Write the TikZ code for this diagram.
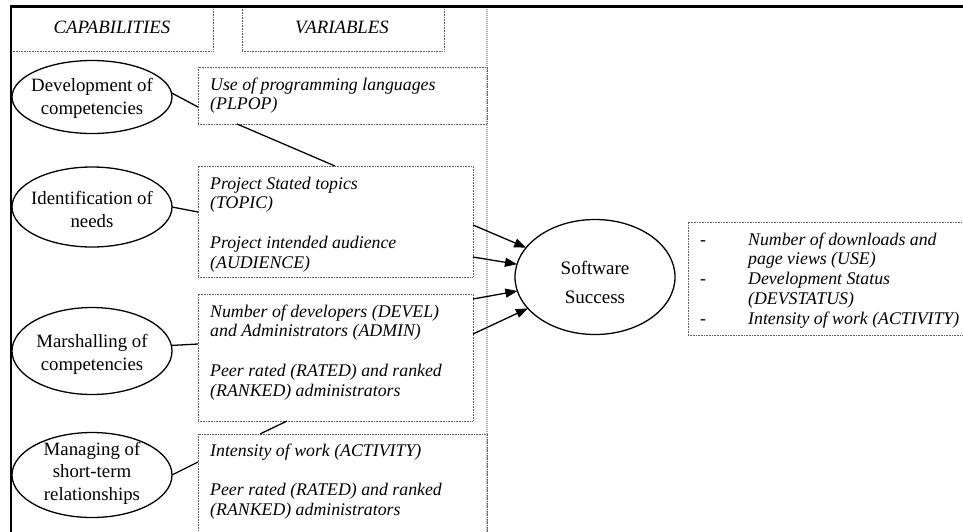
\documentclass[tikz,border=0pt]{standalone}
\usepackage{fontspec}
\setmainfont{Liberation Serif}
\usetikzlibrary{shapes.geometric,arrows.meta,calc}
\definecolor{dotgray}{RGB}{95,95,95}
\definecolor{linegray}{RGB}{165,165,165}
\newcommand{\rowsL}[1]{\begin{tabular}[t]{@{}l@{}}#1\end{tabular}}
\newcommand{\rowsC}[1]{\begin{tabular}[t]{@{}c@{}}#1\end{tabular}}
\begin{document}
\begin{tikzpicture}[x=1pt,y=-1pt,
  vbox/.style={draw=dotgray, line width=0.8pt, dash pattern=on 0.8pt off 0.8pt, inner sep=0pt, outer sep=0pt, anchor=north west},
  oval/.style={draw, ellipse, line width=1.3pt, inner sep=0pt, outer sep=0pt, minimum width=160pt},
  captext/.style={font=\fontsize{18.8}{23}\selectfont, inner sep=0pt, anchor=base},
  headtext/.style={font=\fontsize{18.8}{23}\selectfont\itshape, inner sep=0pt, anchor=base},
  vartext/.style={font=\fontsize{17.8}{19.8}\selectfont\itshape, inner sep=0pt, anchor=base west},
  link/.style={line width=1.3pt},
  arr/.style={line width=1.3pt, -{Triangle[length=12pt,width=9pt]}},
]
\useasboundingbox (0,0) rectangle (963,531);

% header boxes
\node[vbox, minimum width=202pt, minimum height=44pt] (capbox) at (11,7) {};
\node[vbox, minimum width=202pt, minimum height=44pt] (varbox) at (242,7) {};
\node[headtext] (caph) at (112,33) {CAPABILITIES};
\node[headtext] (varh) at (342,33) {VARIABLES};

% vertical separator
\draw[linegray, line width=1.6pt, dash pattern=on 1pt off 1pt] (487,7) -- (487,540);

% variable boxes
\node[vbox, minimum width=289pt, minimum height=57pt] (b1) at (198,67) {};
\node[vbox, minimum width=275pt, minimum height=111pt] (b2) at (198,166) {};
\node[vbox, minimum width=275pt, minimum height=127pt] (b3) at (198,294) {};
\node[vbox, minimum width=289pt, minimum height=110pt] (b4) at (198,434) {};
\node[vbox, minimum width=290pt, minimum height=113pt] (rb) at (688,222) {};

\node[vartext] (b1t) at (210,90) {\rowsL{Use of programming languages\\(PLPOP)}};
\node[vartext] (b2t) at (210,189) {\rowsL{Project Stated topics\\(TOPIC)\\ \\Project intended audience\\(AUDIENCE)}};
\node[vartext] (b3t) at (210,317) {\rowsL{Number of developers (DEVEL)\\and Administrators (ADMIN)\\ \\Peer rated (RATED) and ranked\\(RANKED) administrators}};
\node[vartext] (b4t) at (210,456) {\rowsL{Intensity of work (ACTIVITY)\\ \\Peer rated (RATED) and ranked\\(RANKED) administrators}};
\node[vartext] (rbt) at (700,245) {\begin{tabular}[t]{@{}p{48pt}@{}l@{}}\upshape -&Number of downloads and\\ &page views (USE)\\ \upshape -&Development Status\\ &(DEVSTATUS)\\ \upshape -&Intensity of work (ACTIVITY)\end{tabular}};

% capability ellipses
\node[oval, minimum height=73pt] (e1) at (92,97) {};
\node[oval, minimum height=80pt] (e2) at (92,207) {};
\node[oval, minimum height=87pt] (e3) at (92,351) {};
\node[oval, minimum height=85pt] (e4) at (92,475) {};
\node[captext] (e1t) at (92,91) {\rowsC{Development of\\competencies}};
\node[captext] (e2t) at (92,204) {\rowsC{Identification of\\needs}};
\node[captext] (e3t) at (92,347) {\rowsC{Marshalling of\\competencies}};
\node[captext, font=\fontsize{18.8}{22.5}\selectfont] (e4t) at (92,455) {\rowsC{Managing of\\short-term\\relationships}};

% software success
\node[oval, minimum height=115pt] (ss) at (595,277) {};
\node[captext, font=\fontsize{19}{29}\selectfont] (sst) at (595,274) {\rowsC{Software\\Success}};

% frame
\draw[line width=2.8pt, line join=miter] (11,540) -- (11,6.5) -- (970,6.5);

% connectors
\draw[link] (e1.3) -- ($(b1.north west)+(0,40)$);
\draw[link] ($(b1.south west)+(39,0)$) -- ($(b2.north west)+(137,0)$);
\draw[link] (e2.east) -- ($(b2.north west)+(0,46)$);
\draw[link] (e3.4) -- ($(b3.north west)+(0,50)$);
\draw[link] ($(b3.south west)+(89,0)$) -- ($(b4.north west)+(62,0)$);
\draw[link] (e4.east) -- ($(b4.north west)+(0,28)$);

\draw[arr] ($(b2.north east)+(0,59)$) -- (ss);
\draw[arr] ($(b2.north east)+(0,91)$) -- (ss);
\draw[arr] ($(b3.north east)+(0,5)$) -- (ss);
\draw[arr] ($(b3.north east)+(0,40)$) -- (ss);
\end{tikzpicture}
\end{document}
